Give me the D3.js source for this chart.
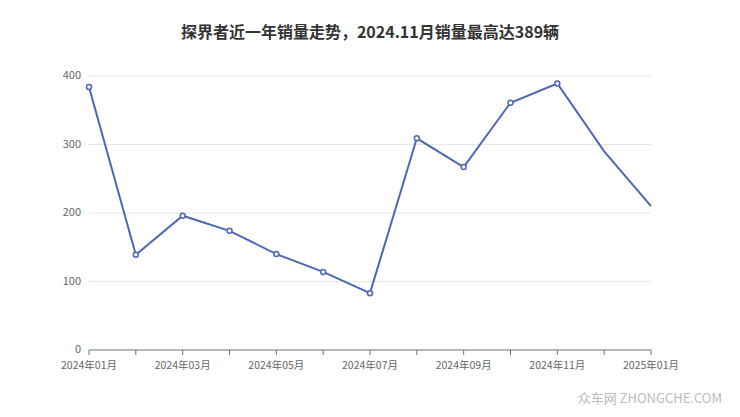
<!DOCTYPE html><html><head><meta charset="utf-8"><script src="https://cdn.jsdelivr.net/npm/d3@7"></script>
<style>body{margin:0;background:#fff}</style></head><body><svg id="c" width="740" height="417"></svg>
<script>
const months=["2024-01","2024-02","2024-03","2024-04","2024-05","2024-06","2024-07","2024-08","2024-09","2024-10","2024-11","2024-12","2025-01"];
const sales=[384,139,196,174,140,114,83,309,267,361,389,290,210];
const yTicks=[0,100,200,300,400];
const svg=d3.select("#c");
const x=d3.scalePoint().domain(months).range([89,651]);
const y=d3.scaleLinear().domain([0,400]).range([350,76]);
const font="'Noto Sans CJK SC', sans-serif";
svg.append("text").attr("x",370).attr("y",38).attr("text-anchor","middle").attr("font-family",font).attr("font-size",16).attr("font-weight","bold").attr("fill","#333").text("探界者近一年销量走势，2024.11月销量最高达389辆");
yTicks.forEach(t=>{
 if(t>0) svg.append("line").attr("x1",89).attr("x2",651).attr("y1",y(t)).attr("y2",y(t)).attr("stroke","#e6e6e6");
 svg.append("text").attr("x",81).attr("y",y(t)+3).attr("text-anchor","end").attr("font-family",font).attr("font-size",11).attr("fill","#666").text(t);
});
svg.append("line").attr("x1",89).attr("x2",651).attr("y1",350).attr("y2",350).attr("stroke","#6e7079");
months.forEach((m,i)=>{
 svg.append("line").attr("x1",x(m)).attr("x2",x(m)).attr("y1",350).attr("y2",355).attr("stroke","#6e7079");
 if(i%2==0) svg.append("text").attr("x",x(m)).attr("y",369).attr("text-anchor","middle").attr("font-family",font).attr("font-size",10.5).attr("fill","#666").text(m.slice(0,4)+"年"+m.slice(5)+"月");
});
const data=months.map((m,i)=>({m,v:sales[i],i}));
svg.append("path").datum(data).attr("d",d3.line().x(d=>x(d.m)).y(d=>y(d.v))).attr("fill","none").attr("stroke","#4f67b3").attr("stroke-width",2);
svg.selectAll("circle").data(data.filter(d=>d.i<11)).enter().append("circle").attr("cx",d=>x(d.m)).attr("cy",d=>y(d.v)).attr("r",2.5).attr("fill","#fff").attr("stroke","#4f67b3").attr("stroke-width",1.5);
svg.append("text").attr("x",722).attr("y",403).attr("text-anchor","end").attr("font-family",font).attr("font-size",13).attr("fill","#bbb").text("众车网 ZHONGCHE.COM");
</script></body></html>
